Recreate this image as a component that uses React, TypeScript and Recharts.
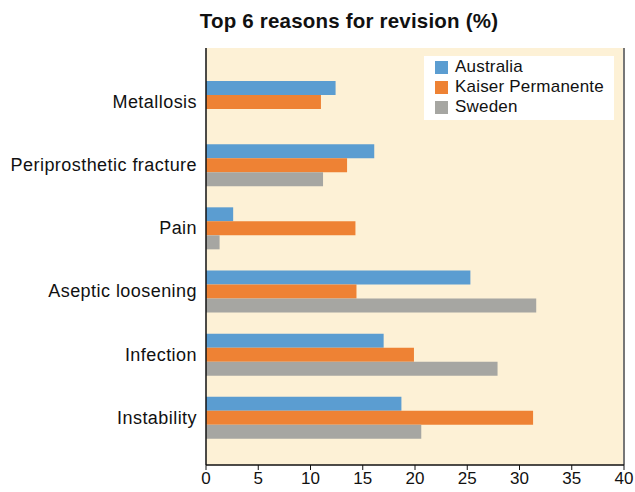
import React from 'react';
import {
  BarChart, Bar, XAxis, YAxis, CartesianGrid, ReferenceLine,
} from 'recharts';

const reasons = ['Metallosis', 'Periprosthetic fracture', 'Pain', 'Aseptic loosening', 'Infection', 'Instability'];
const australia = [12.4, 16.1, 2.6, 25.3, 17.0, 18.7];
const kaiser = [11.0, 13.5, 14.3, 14.4, 19.9, 31.3];
const sweden = [null, 11.2, 1.3, 31.6, 27.9, 20.6];
const xTicks = [0, 5, 10, 15, 20, 25, 30, 35, 40];

const SERIES = [
  { key: 'australia', name: 'Australia', color: '#5B9DD1' },
  { key: 'kaiser', name: 'Kaiser Permanente', color: '#EE8234' },
  { key: 'sweden', name: 'Sweden', color: '#A6A6A2' },
];

const FONT = '"Liberation Sans", Arial, Helvetica, sans-serif';

const data = reasons.map((r, i) => ({
  reason: r,
  australia: australia[i],
  kaiser: kaiser[i],
  sweden: sweden[i],
}));

function LegendBox() {
  return (
    <div style={{
      position: 'absolute', left: 424, top: 56, background: '#fff', width: 190, height: 64,
      boxSizing: 'border-box', padding: '1px 0 0 11px', fontFamily: FONT,
    }}>
      {SERIES.map(s => (
        <div key={s.key} style={{ display: 'flex', alignItems: 'center', height: 20, fontSize: 17, letterSpacing: 0.2, color: '#111' }}>
          <div style={{ width: 13, height: 13, background: s.color, marginRight: 7 }} />
          <span>{s.name}</span>
        </div>
      ))}
    </div>
  );
}

export default function App() {
  return (
    <div style={{
      position: 'absolute', top: 0, left: 0, width: 635, height: 492,
      overflow: 'hidden', background: '#fff', fontFamily: FONT,
    }}>
      <div style={{
        position: 'absolute', top: 9, left: 349, transform: 'translateX(-50%)', whiteSpace: 'nowrap',
        fontSize: 20.5, fontWeight: 'bold', color: '#111', letterSpacing: 0.2,
      }}>
        Top 6 reasons for revision (%)
      </div>
      <BarChart
        width={635}
        height={492}
        data={data}
        layout="vertical"
        margin={{ top: 48, right: 11, bottom: 0, left: 0 }}
        barGap={0}
        barSize={14}
      >
        <CartesianGrid horizontal={false} vertical={false} fill="#FDF1D6" />
        <XAxis
          type="number"
          domain={[0, 40]}
          ticks={xTicks}
          height={27}
          axisLine={{ stroke: '#111', strokeWidth: 1.5 }}
          tickLine={{ stroke: '#111' }}
          tickSize={5}
          tickMargin={2}
          tick={{ fontSize: 17, fill: '#111', fontFamily: FONT }}
        />
        <XAxis
          xAxisId="top"
          orientation="top"
          type="number"
          domain={[0, 40]}
          height={0}
          tick={false}
          tickLine={false}
          axisLine={{ stroke: '#777', strokeWidth: 2 }}
        />
        <YAxis
          type="category"
          dataKey="reason"
          width={206}
          padding={{ top: 22, bottom: 16 }}
          axisLine={{ stroke: '#111', strokeWidth: 1.5 }}
          tickLine={false}
          tickSize={0}
          tickMargin={9}
          tick={{ fontSize: 18, fill: '#111', fontFamily: FONT, letterSpacing: 0.45 }}
        />
        <ReferenceLine x={40} stroke="#777" strokeWidth={2} />
        {SERIES.map(s => (
          <Bar key={s.key} dataKey={s.key} name={s.name} fill={s.color} isAnimationActive={false} />
        ))}
      </BarChart>
      <LegendBox />
    </div>
  );
}
